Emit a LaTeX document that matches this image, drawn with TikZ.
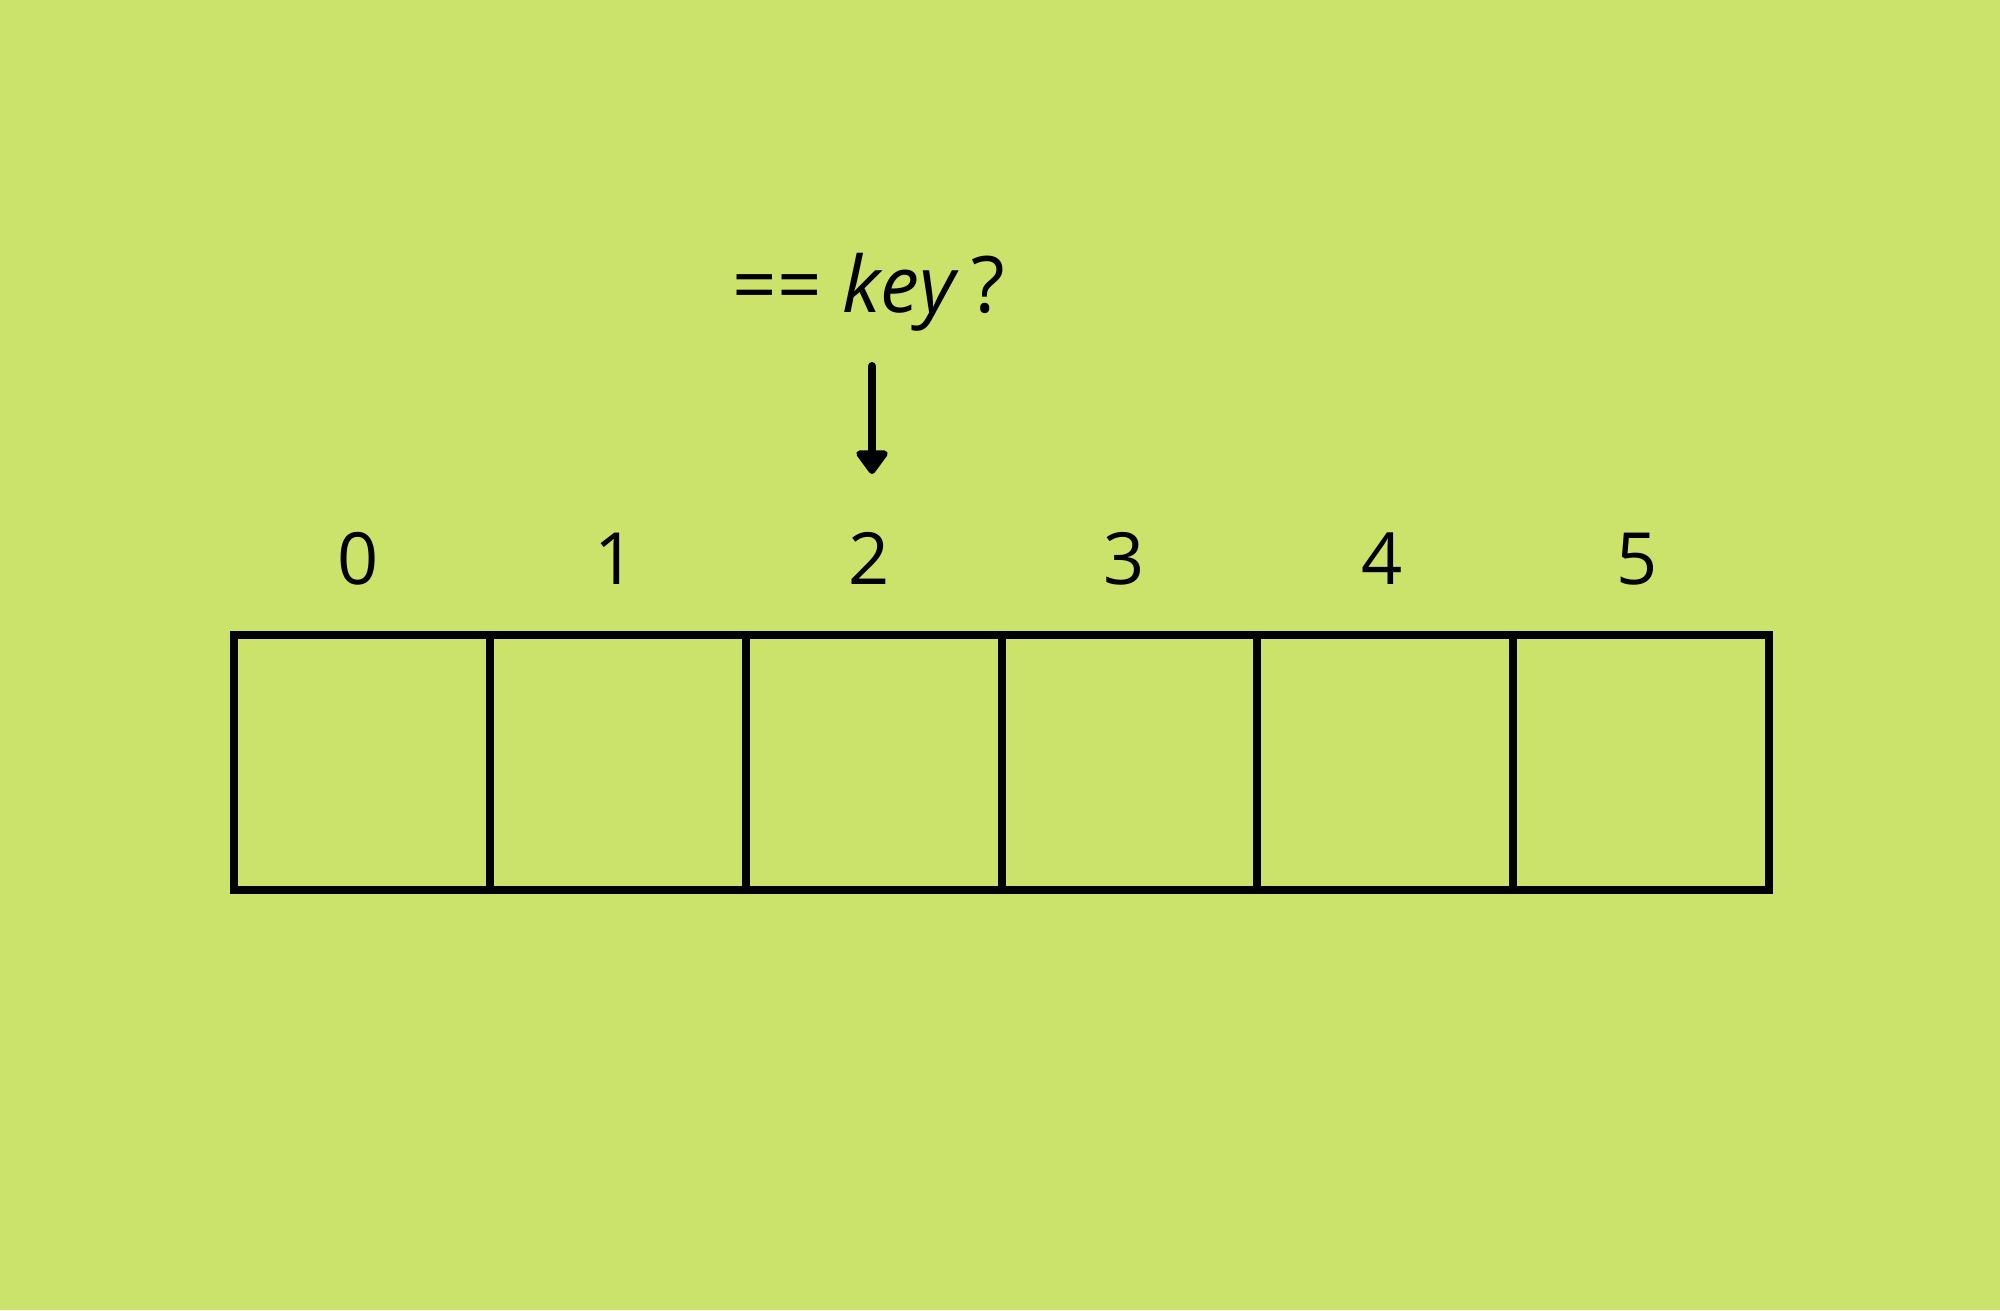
\documentclass[tikz,border=0pt]{standalone}
\usepackage{fontspec}
\setmainfont{Open Sans}
\usepackage{xcolor}
\usetikzlibrary{positioning}
\usetikzlibrary{arrows.meta}
\definecolor{lime}{RGB}{203,227,106}
\tikzset{cell/.style={draw=black,line width=8pt,minimum width=255.8pt,minimum height=255pt,inner sep=0pt,outer sep=0pt}}
\tikzset{idx/.style={font=\fontsize{72}{86}\selectfont,anchor=base,inner sep=0pt}}
\tikzset{pointer/.style={line width=8pt,line cap=round,-{Triangle[round,width=36pt,length=26pt]}}}

\begin{document}
\begin{tikzpicture}[x=1pt,y={(0pt,-1pt)}] % pixel-like units, y down
            \fill[lime] (0,0) rectangle (2000,1310);
            \useasboundingbox (0,0) rectangle (2000,1310);
            % the array
            \node[cell] (c0) at (362,762.5) {};
            \node[cell,right=0pt of c0] (c1) {};
            \node[cell,right=0pt of c1] (c2) {};
            \node[cell,right=0pt of c2] (c3) {};
            \node[cell,right=0pt of c3] (c4) {};
            \node[cell,right=0pt of c4] (c5) {};
            % indices
            \node[idx] (l0) at (358,584) {0};
            \node[idx] (l1) at (615,584) {1};
            \node[idx] (l2) at (869,584) {2};
            \node[idx] (l3) at (1124,584) {3};
            \node[idx] (l4) at (1382,584) {4};
            \node[idx] (l5) at (1637,584) {5};
            % the question
            \node[idx,font=\fontsize{78}{92}\selectfont] (q) at (869,312) {== \textit{key}\,?};
            \coordinate (atop) at (872,366);
            \coordinate (abot) at (872,474);
            \draw[pointer] (atop) -- (abot);
        \end{tikzpicture}
\end{document}
